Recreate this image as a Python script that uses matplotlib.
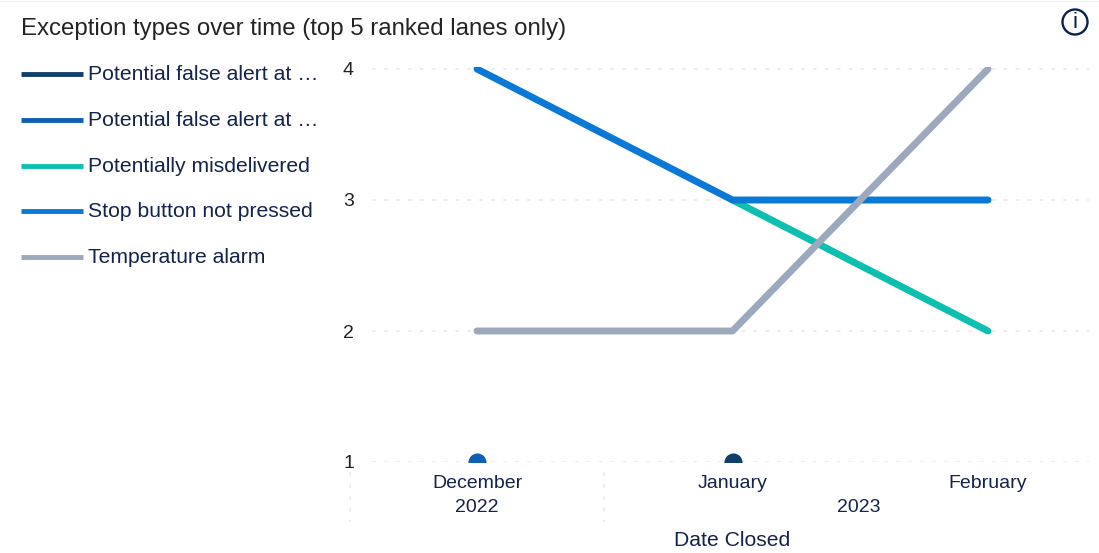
import matplotlib
matplotlib.use('Agg')
import matplotlib.pyplot as plt
from matplotlib.patches import Circle

plt.rcParams['font.family'] = ['Liberation Sans', 'DejaVu Sans']

months = ['December', 'January', 'February']
month_pos = [0, 1, 2]

false_alert_a_x = [1]
false_alert_a = [1]
false_alert_b_x = [0]
false_alert_b = [1]
misdelivered_x = [1, 2]
misdelivered = [3, 2]
stop_button_x = [0, 1, 2]
stop_button = [4, 3, 3]
temperature_x = [0, 1, 2]
temperature = [2, 2, 4]

legend_labels = ['Potential false alert at …', 'Potential false alert at …',
                 'Potentially misdelivered', 'Stop button not pressed', 'Temperature alarm']
legend_colors = ['#123E6B', '#0F5FB3', '#0DBFAE', '#0A78D6', '#9CA9BC']
legend_y = [74, 120, 166, 211, 257]

W, H = 1099, 553
text_col = '#14234B'
dots = (0, (2.1, 4.5))
fig = plt.figure(figsize=(W / 100, H / 100), dpi=100)

# plot area, pixel box of the gridlines; 2px of headroom so line caps show above 4
px_per_unit = (462 - 69) / 3
ax = fig.add_axes([372 / W, 1 - 462 / H, (1089 - 372) / W, (462 - 67) / H])
ax.set_xlim((372 - 477) / 255.5, (1089 - 477) / 255.5)
ax.set_ylim(1, 4 + 2 / px_per_unit)
ax.set_yticks([1, 2, 3, 4])
ax.set_xticks([])
ax.grid(axis='y', color='#ececec', lw=1.3, ls=dots)
ax.set_axisbelow(True)
for s in ax.spines.values():
    s.set_visible(False)
ax.tick_params(axis='y', length=0, labelsize=14, labelcolor='#222222', pad=13)

lw = 5
ax.plot(misdelivered_x, misdelivered, color=legend_colors[2], lw=lw, solid_capstyle='round')
ax.plot(stop_button_x, stop_button, color=legend_colors[3], lw=lw, solid_capstyle='round')
ax.plot(temperature_x, temperature, color=legend_colors[4], lw=lw, solid_capstyle='round')
ax.plot(false_alert_a_x, false_alert_a, 'o', color=legend_colors[0], ms=13, mew=0)
ax.plot(false_alert_b_x, false_alert_b, 'o', color=legend_colors[1], ms=13, mew=0)

# overlay in pixels for the legend, titles and the icon
ov = fig.add_axes([0, 0, 1, 1], zorder=5)
ov.set_xlim(0, W)
ov.set_ylim(H, 0)
ov.axis('off')
ov.patch.set_alpha(0)

ov.plot([0, W], [0.5, 0.5], color='#f2f2f2', lw=1)
ov.text(21, 28.5, 'Exception types over time (top 5 ranked lanes only)', fontsize=17.3,
        color='#252423', va='center', ha='left')

for lab, col, y in zip(legend_labels, legend_colors, legend_y):
    ov.plot([21, 83], [y, y], color=col, lw=3.5, solid_capstyle='butt')
    ov.text(88, y + 0.5, lab, fontsize=15.2, color=text_col, va='center', ha='left')

for m, p in zip(months, month_pos):
    ov.text(477 + p * 255.5, 484, m, fontsize=14, color=text_col, ha='center', va='center')
ov.text(477, 508, '2022', fontsize=14, color=text_col, ha='center', va='center')
ov.text(859, 508, '2023', fontsize=14, color=text_col, ha='center', va='center')
ov.text(732, 541, 'Date Closed', fontsize=15.2, color=text_col, ha='center', va='center')

for x in [350, 604]:
    ov.plot([x, x], [472, 522], color='#ececec', lw=1.3, ls=dots)

ov.add_patch(Circle((1075, 22), 12.5, fc='none', ec='#0B1F54', lw=1.7))
ov.text(1075, 22, 'i', fontsize=16, color='#0B1F54', ha='center', va='center')

fig.savefig('out.png', dpi=100)
